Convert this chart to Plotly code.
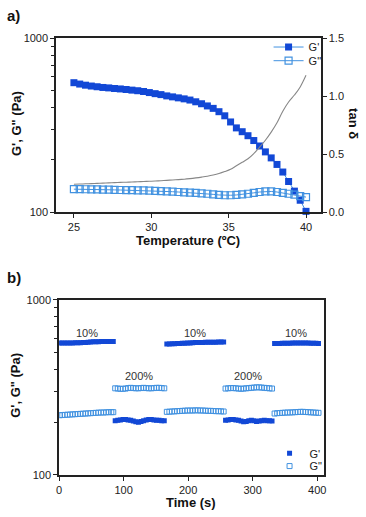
import math
import plotly.graph_objects as go

W, H = 366, 517

# ---------- Panel a data ----------
temp = [25.0, 25.375, 25.75, 26.125, 26.5, 26.875, 27.25, 27.625, 28.0, 28.375,
        28.75, 29.125, 29.5, 29.875, 30.25, 30.625, 31.0, 31.375, 31.75, 32.125,
        32.5, 32.875, 33.25, 33.625, 34.0, 34.375, 34.75, 35.125, 35.5, 35.875,
        36.25, 36.625, 37.0, 37.375, 37.75, 38.125, 38.5, 38.875, 39.25, 39.625, 40.0]
g1_a = [555, 545, 537, 531, 526, 521, 518, 514, 511, 507,
        503, 499, 494, 487, 480, 474, 466, 460, 454, 448,
        441, 431, 420, 408, 395, 378, 358, 330, 305, 290,
        275, 258, 240, 222, 205, 188, 170, 150, 132, 117, 101]
g2_a = [135.5, 135.5, 135.3, 135.2, 135.0, 134.8, 134.5, 134.2, 134.0, 133.8,
        133.6, 133.4, 133.2, 132.8, 132.4, 132.0, 131.5, 131.0, 130.5, 130.0,
        129.5, 129.0, 128.3, 127.5, 126.5, 125.5, 125.0, 125.0, 125.5, 126.3,
        127.5, 129.0, 130.5, 131.5, 131.5, 130.5, 129.0, 127.5, 126.0, 123.5, 122.0]
tand = [0.240, 0.242, 0.244, 0.246, 0.248, 0.250, 0.252, 0.254, 0.256, 0.258,
        0.260, 0.262, 0.264, 0.266, 0.268, 0.271, 0.274, 0.277, 0.280, 0.284,
        0.289, 0.295, 0.302, 0.310, 0.320, 0.333, 0.350, 0.370, 0.400, 0.430,
        0.460, 0.505, 0.560, 0.620, 0.690, 0.770, 0.870, 0.950, 1.010, 1.080, 1.180]

# ---------- Panel b data (segments separated by None) ----------
time_b = [1, 5, 9, 13, 17, 21, 25, 29, 33, 37, 41, 45, 49, 53, 57, 61, 65, 69, 73, 77, 81, 84, None,
          87, 91, 95, 99, 103, 107, 111, 115, 119, 123, 127, 131, 135, 139, 143, 147, 151, 155, 159, 163, None,
          167, 171, 175, 179, 183, 187, 191, 195, 199, 203, 207, 211, 215, 219, 223, 227, 231, 235, 239, 243, 247, 251, 255, None,
          258, 262, 266, 270, 274, 278, 282, 286, 290, 294, 298, 302, 306, 310, 314, 318, 322, 326, 330, None,
          334, 338, 342, 346, 350, 354, 358, 362, 366, 370, 374, 378, 382, 386, 390, 394, 398, 402]
g1_b = [566, 566, 566, 567, 567, 567, 568, 568, 568, 569, 570, 572, 574, 575, 576, 576, 577, 577, 577, 578, 578, 578, None,
        204, 205, 206, 207, 207, 206, 205, 203, 201, 200, 202, 204, 206, 207, 207, 206, 205, 205, 204, 204, None,
        558, 559, 560, 561, 562, 563, 564, 565, 566, 567, 568, 569, 569, 570, 570, 571, 571, 572, 572, 572, 573, 573, 573, None,
        205, 206, 207, 207, 206, 205, 203, 201, 202, 204, 205, 204, 202, 203, 204, 205, 204, 204, 203, None,
        562, 563, 563, 564, 564, 565, 565, 566, 566, 567, 567, 567, 566, 566, 565, 565, 564, 563]
g2_b = [219, 219.5, 220, 220.5, 221, 221.5, 222, 222.5, 223, 223.5, 224, 224.5, 225, 225.5, 226, 226.5, 227, 227, 227.5, 228, 228, 228, None,
        312, 311, 310, 310, 311, 313, 314, 313, 312, 312, 313, 314, 313, 312, 312, 313, 314, 314, 313, 312, None,
        229, 229.5, 230, 230.5, 231, 231.5, 232, 232.5, 233, 233, 233, 233.5, 233.5, 233, 233, 232.5, 232, 232, 231.5, 231, 231, 230.5, 230, None,
        311, 312, 313, 313, 312, 311, 310, 311, 312, 313, 314, 315, 316, 316, 315, 314, 313, 312, 311, None,
        224, 225, 225.5, 226, 226.5, 227, 227, 227.5, 228, 228.5, 229, 229, 228.5, 228, 227.5, 227, 226.5, 226]

strain_labels = ["10%", "200%", "10%", "200%", "10%"]
strain_x = [43, 124, 210, 293, 367]
strain_y = [644, 369, 644, 369, 644]

x_ticks_a = [25, 30, 35, 40]
x_ticks_b = [0, 100, 200, 300, 400]

BLUE = "rgb(18,72,214)"
LBLUE = "rgb(66,146,224)"
GRAY = "rgb(135,135,135)"
FONT = "Liberation Sans, Arial, sans-serif"

fig = go.Figure()

# Panel a
fig.add_trace(go.Scatter(x=temp, y=g1_a, name="G'", mode="lines+markers",
                         line=dict(color=LBLUE, width=1),
                         marker=dict(symbol="square", size=7, color=BLUE, line=dict(color=BLUE, width=0)),
                         xaxis="x", yaxis="y", cliponaxis=False, legend="legend"))
fig.add_trace(go.Scatter(x=temp, y=g2_a, name="G\"", mode="lines+markers",
                         line=dict(color=LBLUE, width=1),
                         marker=dict(symbol="square-open", size=7, color=LBLUE, line=dict(width=1.2)),
                         xaxis="x", yaxis="y", cliponaxis=False, legend="legend2"))
fig.add_trace(go.Scatter(x=temp, y=tand, name="tan δ", mode="lines", showlegend=False,
                         line=dict(color=GRAY, width=1.1, shape="spline"),
                         xaxis="x", yaxis="y3"))

# Panel b
fig.add_trace(go.Scatter(x=time_b, y=g1_b, name="G'", mode="markers",
                         marker=dict(symbol="square", size=5, color=BLUE),
                         xaxis="x2", yaxis="y2", legend="legend3"))
fig.add_trace(go.Scatter(x=time_b, y=g2_b, name="G\"", mode="markers",
                         marker=dict(symbol="square-open", size=5, color=LBLUE, line=dict(width=1)),
                         xaxis="x2", yaxis="y2", legend="legend4"))

axis_common = dict(showline=True, linecolor="#222", linewidth=1.6, ticks="outside",
                   ticklen=4, tickwidth=1.3, tickcolor="#222", showgrid=False, zeroline=False,
                   tickfont=dict(family=FONT, size=11, color="#222"))

minor_log = dict(tickmode="array", tickvals=[200, 300, 400, 500, 600, 700, 800, 900],
                 ticks="outside", ticklen=3, tickwidth=1.1, tickcolor="#222")


def leg(x, y):
    return dict(x=x / W, y=(H - y) / H, xanchor="left", yanchor="middle",
                bgcolor="rgba(0,0,0,0)", font=dict(family=FONT, size=11, color="#222"),
                itemwidth=30, tracegroupgap=0, borderwidth=0)


fig.update_layout(
    width=W, height=H, margin=dict(l=0, r=0, t=0, b=0),
    paper_bgcolor="white", plot_bgcolor="white",
    font=dict(family=FONT, size=11, color="#222"),
    xaxis=dict(domain=[54 / W, 323 / W], range=[23.85, 40.95], tickvals=x_ticks_a,
               anchor="y", mirror=True, **axis_common),
    yaxis=dict(domain=[(H - 211) / H, (H - 33) / H], type="log", range=[2, 3],
               tickvals=[100, 1000], ticktext=["100", "1000"], anchor="x",
               minor=minor_log, mirror=True, **axis_common),
    yaxis3=dict(overlaying="y", side="right", anchor="x", range=[0, 1.5],
                tickvals=[0, 0.5, 1.0, 1.5], ticktext=["0.0", "0.5", "1.0", "1.5"],
                **axis_common),
    xaxis2=dict(domain=[57 / W, 326 / W], range=[0, 410], tickvals=x_ticks_b,
                anchor="y2", mirror=True, **axis_common),
    yaxis2=dict(domain=[(H - 480) / H, (H - 300.7) / H], type="log", range=[2, 3],
                tickvals=[100, 1000], ticktext=["100", "1000"], anchor="x2",
                minor=minor_log, mirror=True, **axis_common),
    legend=leg(270, 42),
    legend2=leg(270, 56),
    legend3=leg(271, 458),
    legend4=leg(271, 471),
)

ann = []
def pa(text, x, y, size=13, bold=True, angle=0, xanchor="center"):
    ann.append(dict(text=("<b>%s</b>" % text) if bold else text, x=x / W, y=(H - y) / H,
                    xref="paper", yref="paper", showarrow=False, textangle=angle,
                    xanchor=xanchor, yanchor="middle",
                    font=dict(family=FONT, size=size, color="#111")))

pa("a)", 2, 10, size=15, xanchor="left")
pa("b)", 2, 278, size=15, xanchor="left")
pa("G', G\" (Pa)", 13, 120, angle=-90)
pa("G', G\" (Pa)", 13, 388, angle=-90)
pa("Temperature (ºC)", 188, 240)
pa("Time (s)", 191, 508)
pa("tan δ", 357, 120, angle=90)

for lab, xv, yv in zip(strain_labels, strain_x, strain_y):
    ann.append(dict(text=lab, x=xv, y=math.log10(yv), xref="x2", yref="y2", showarrow=False,
                    yanchor="middle", font=dict(family=FONT, size=11, color="#333")))

fig.update_layout(annotations=ann)
fig.write_html("out.html", config={"displayModeBar": False},
               post_script="document.body.style.margin='0px';document.body.style.overflow='hidden';")
